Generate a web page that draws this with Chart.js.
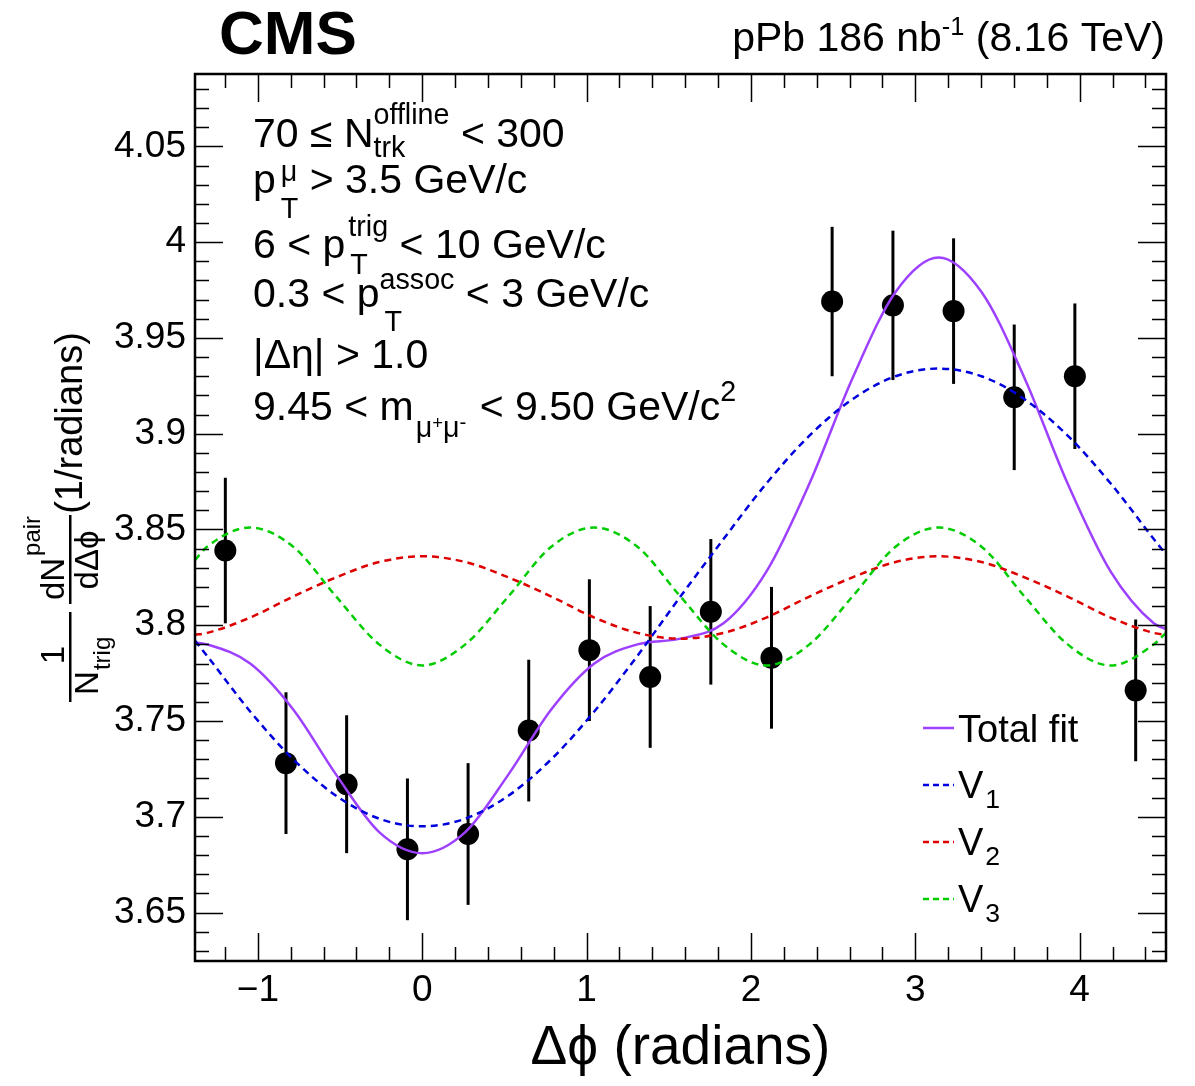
<!DOCTYPE html>
<html>
<head>
<meta charset="utf-8">
<script src="https://cdn.jsdelivr.net/npm/chart.js@4.4.1/dist/chart.umd.min.js"></script>
<style>
  html, body { margin: 0; padding: 0; background: #fff; }
  canvas { display: block; }
</style>
</head>
<body>
<canvas id="corrChart" width="1195" height="1086" style="width:1195px;height:1086px"></canvas>
<script>
// per-trigger pair yield vs delta phi, 16 bins
const binCenters = [-1.198, -0.829, -0.460, -0.090, 0.279, 0.648, 1.017, 1.387,
                    1.756, 2.125, 2.494, 2.864, 3.233, 3.602, 3.971, 4.341]
const pairYield = [3.839, 3.728, 3.717, 3.683, 3.691, 3.745, 3.787, 3.773,
                   3.807, 3.783, 3.969, 3.967, 3.964, 3.919, 3.930, 3.766]
const yieldErr = [0.038, 0.037, 0.036, 0.037, 0.037, 0.037, 0.037, 0.037,
                  0.038, 0.037, 0.039, 0.039, 0.038, 0.038, 0.038, 0.037]

// fit curves sampled along delta phi
const fitX = [-1.383, -1.309, -1.047, -0.785, -0.524, -0.262, 0, 0.262, 0.524, 0.785, 1.047, 1.309,
              1.571, 1.833, 2.094, 2.356, 2.618, 2.880, 3.142, 3.403, 3.665, 3.927, 4.189, 4.451, 4.525]
const totalFit = [3.791, 3.790, 3.780, 3.756, 3.722, 3.692, 3.681, 3.692, 3.722, 3.756, 3.780, 3.790,
                  3.793, 3.801, 3.828, 3.874, 3.929, 3.974, 3.992, 3.974, 3.929, 3.874, 3.828, 3.801, 3.798]
const v1Fit = [3.792, 3.784, 3.755, 3.730, 3.711, 3.699, 3.695, 3.699, 3.711, 3.730, 3.755, 3.784,
               3.815, 3.845, 3.874, 3.899, 3.918, 3.930, 3.934, 3.930, 3.918, 3.899, 3.874, 3.845, 3.837]
const v2Fit = [3.795, 3.796, 3.804, 3.815, 3.825, 3.833, 3.836, 3.833, 3.825, 3.815, 3.804, 3.796,
               3.793, 3.796, 3.804, 3.815, 3.825, 3.833, 3.836, 3.833, 3.825, 3.815, 3.804, 3.796, 3.795]
const v3Fit = [3.834, 3.841, 3.851, 3.841, 3.815, 3.790, 3.779, 3.790, 3.815, 3.841, 3.851, 3.841,
               3.815, 3.790, 3.779, 3.790, 3.815, 3.841, 3.851, 3.841, 3.815, 3.790, 3.779, 3.790, 3.796]

const xTickValues = [-1, 0, 1, 2, 3, 4]
const yTickValues = [3.65, 3.7, 3.75, 3.8, 3.85, 3.9, 3.95, 4, 4.05]
const xRange = [-1.3826, 4.5255]
const yRange = [3.6247, 4.0878]

const FAMILY = '"Liberation Sans", Arial, Helvetica, sans-serif'
const colTotal = '#9e40ff'
const colV1 = '#0000dd'
const colV2 = '#dd0000'
const colV3 = '#00cc00'

function fnt(size, bold) {
  return (bold ? 'bold ' : '') + size + 'px ' + FAMILY
}

// draws text with super/subscripts, returns the width used
function drawRich(ctx, x, y, size, parts, dry) {
  let cx = x
  parts.forEach(p => {
    if (typeof p === 'string') {
      ctx.font = fnt(size)
      if (!dry) ctx.fillText(p, cx, y)
      cx += ctx.measureText(p).width
    } else if (p.stack) {
      let w = 0
      p.stack.forEach(q => {
        ctx.font = fnt(size * (q.s || 0.7))
        if (!dry) ctx.fillText(q.t, cx + (q.dx || 0), y + q.dy)
        w = Math.max(w, ctx.measureText(q.t).width + (q.dx || 0))
      })
      cx += w + (p.gap || 0)
    } else {
      ctx.font = fnt(size * (p.s || 0.7))
      if (!dry) ctx.fillText(p.t, cx + (p.dx || 0), y + (p.dy || 0))
      cx += ctx.measureText(p.t).width + (p.dx || 0) + (p.gap || 0)
    }
  })
  return cx - x
}

// text rotated by -90deg: centred on page y = cy, baseline at page x = bx
function rotText(ctx, str, size, cy, bx, align) {
  ctx.save()
  ctx.rotate(-Math.PI / 2)
  ctx.font = fnt(size)
  ctx.textAlign = align || 'center'
  ctx.fillText(str, -cy, bx)
  ctx.restore()
  ctx.font = fnt(size)
  return ctx.measureText(str).width
}

const framePlugin = {
  id: 'frame',
  afterDraw(chart) {
    const ctx = chart.ctx
    const a = chart.chartArea
    const xs = chart.scales.x, ys = chart.scales.y
    ctx.save()
    ctx.strokeStyle = '#000'
    ctx.lineWidth = 1.5
    // minor ticks every 0.2 on x, every 0.01 on y, pointing inwards on all sides
    for (let i = -7; i <= 22; i++) {
      const v = i * 0.2
      if (v < xRange[0] || v > xRange[1]) continue
      const px = Math.round(xs.getPixelForValue(v)) + 0.5
      const len = (i % 5 === 0) ? 28 : 14
      ctx.beginPath()
      ctx.moveTo(px, a.bottom); ctx.lineTo(px, a.bottom - len)
      ctx.moveTo(px, a.top); ctx.lineTo(px, a.top + len)
      ctx.stroke()
    }
    for (let i = 363; i <= 408; i++) {
      const v = i / 100
      const py = Math.round(ys.getPixelForValue(v)) + 0.5
      const len = (i % 5 === 0) ? 28 : 14
      ctx.beginPath()
      ctx.moveTo(a.left, py); ctx.lineTo(a.left + len, py)
      ctx.moveTo(a.right, py); ctx.lineTo(a.right - len, py)
      ctx.stroke()
    }
    ctx.lineWidth = 2.5
    ctx.strokeRect(a.left, a.top, a.right - a.left, a.bottom - a.top)
    ctx.restore()
  }
}

const errorBarPlugin = {
  id: 'errorBars',
  beforeDatasetDraw(chart, args) {
    if (args.index !== 4) return
    const ctx = chart.ctx
    const xs = chart.scales.x, ys = chart.scales.y
    ctx.save()
    ctx.strokeStyle = '#000'
    ctx.lineWidth = 3
    binCenters.forEach((x, i) => {
      const px = xs.getPixelForValue(x)
      ctx.beginPath()
      ctx.moveTo(px, ys.getPixelForValue(pairYield[i] - yieldErr[i]))
      ctx.lineTo(px, ys.getPixelForValue(pairYield[i] + yieldErr[i]))
      ctx.stroke()
    })
    ctx.restore()
  }
}

const textPlugin = {
  id: 'labels',
  afterDraw(chart) {
    const ctx = chart.ctx
    ctx.save()
    ctx.fillStyle = '#000'
    ctx.textBaseline = 'alphabetic'
    ctx.textAlign = 'left'

    ctx.font = fnt(62, true)
    ctx.fillText('CMS', 219, 54)

    const lumi = ['pPb 186 nb', {t: '-1', dy: -16, s: 0.62}, ' (8.16 TeV)']
    const w = drawRich(ctx, 0, 0, 41, lumi, true)
    drawRich(ctx, 1165 - w, 51, 41, lumi)

    // selection cuts
    const S = 41
    drawRich(ctx, 253, 147, S, ['70 ≤ N', {stack: [{t: 'offline', dy: -23}, {t: 'trk', dy: 10}]}, ' < 300'])
    drawRich(ctx, 253, 193, S, ['p', {stack: [{t: 'μ', dy: -12, dx: 5}, {t: 'T', dy: 25, dx: 5}]}, ' > 3.5 GeV/c'])
    drawRich(ctx, 253, 258, S, ['6 < p', {stack: [{t: 'trig', dy: -22, dx: 3}, {t: 'T', dy: 16, dx: 5}]}, ' < 10 GeV/c'])
    drawRich(ctx, 253, 307, S, ['0.3 < p', {stack: [{t: 'assoc', dy: -18, dx: 0}, {t: 'T', dy: 24, dx: 5}]}, ' < 3 GeV/c'])
    drawRich(ctx, 253, 368, S, ['|Δη| > 1.0'])
    drawRich(ctx, 253, 420, S, ['9.45 < m', {t: 'μ', dy: 17, dx: 2}, {t: '+', dy: 9, s: 0.45}, {t: 'μ', dy: 17},
      {t: '-', dy: 9, s: 0.5, gap: 2}, ' < 9.50 GeV/c', {t: '2', dy: -19}])

    // legend
    const legend = [
      {y: 728, color: colTotal, dash: [], parts: ['Total fit'], base: 742},
      {y: 785, color: colV1, dash: [6, 4], parts: ['V', {t: '1', dy: 10, dx: 2}], base: 798},
      {y: 842, color: colV2, dash: [6, 4], parts: ['V', {t: '2', dy: 10, dx: 2}], base: 855},
      {y: 899, color: colV3, dash: [6, 4], parts: ['V', {t: '3', dy: 10, dx: 2}], base: 912}
    ]
    legend.forEach(e => {
      ctx.save()
      ctx.strokeStyle = e.color
      ctx.lineWidth = 2.5
      ctx.setLineDash(e.dash)
      ctx.beginPath()
      ctx.moveTo(923, e.y); ctx.lineTo(954, e.y)
      ctx.stroke()
      ctx.restore()
      drawRich(ctx, 958, e.base, 38, e.parts)
    })

    // y axis title: 1/N_trig dN^pair/dDeltaphi (1/radians)
    rotText(ctx, '(1/radians)', 38, 423, 82)
    const F = 33
    const wdN = rotText(ctx, 'dN', F, 579, 64)
    rotText(ctx, 'pair', 24, 579 - wdN / 2 - 2, 40, 'left')
    rotText(ctx, 'dΔϕ', F, 560, 98)
    rotText(ctx, '1', F, 655, 64)
    const wN = rotText(ctx, 'N', F, 683, 98)
    rotText(ctx, 'trig', 24, 683 - wN / 2 - 1, 110, 'left')
    ctx.fillRect(69, 515, 2.5, 89)
    ctx.fillRect(69, 612, 2.5, 90)

    ctx.restore()
  }
}

function series(xs, ys) {
  return xs.map((x, i) => ({x: x, y: ys[i]}))
}

function fitLine(label, values, color, dash) {
  return {
    label: label,
    data: series(fitX, values),
    borderColor: color,
    borderWidth: 2.5,
    borderDash: dash,
    pointRadius: 0,
    cubicInterpolationMode: 'monotone',
    fill: false
  }
}

const ctx = document.getElementById('corrChart').getContext('2d')
new Chart(ctx, {
  type: 'line',
  data: {
    datasets: [
      fitLine('V3', v3Fit, colV3, [7, 5]),
      fitLine('V2', v2Fit, colV2, [7, 5]),
      fitLine('V1', v1Fit, colV1, [7, 5]),
      fitLine('Total fit', totalFit, colTotal, []),
      {
        label: 'data',
        data: series(binCenters, pairYield),
        showLine: false,
        pointRadius: 11,
        pointBackgroundColor: '#000',
        pointBorderWidth: 0
      }
    ]
  },
  options: {
    responsive: false,
    animation: false,
    devicePixelRatio: 1,
    layout: { padding: { left: 0, right: 29, top: 74, bottom: 0 } },
    plugins: { legend: { display: false }, tooltip: { enabled: false } },
    scales: {
      x: {
        type: 'linear',
        min: xRange[0],
        max: xRange[1],
        afterFit: s => { s.height = 125 },
        afterBuildTicks: s => { s.ticks = xTickValues.map(v => ({ value: v })) },
        grid: { display: false, drawTicks: false },
        border: { display: false },
        ticks: {
          color: '#000',
          font: { size: 37, family: FAMILY },
          padding: 8,
          maxRotation: 0,
          autoSkip: false,
          callback: v => (v < 0 ? '\u2212' + Math.abs(v) : String(v))
        },
        title: {
          display: true,
          text: 'Δϕ (radians)',
          color: '#000',
          font: { size: 55, family: FAMILY },
          padding: { top: 0, bottom: 4 }
        }
      },
      y: {
        min: yRange[0],
        max: yRange[1],
        afterFit: s => { s.width = 195 },
        afterBuildTicks: s => { s.ticks = yTickValues.map(v => ({ value: v })) },
        grid: { display: false, drawTicks: false },
        border: { display: false },
        ticks: {
          color: '#000',
          font: { size: 37, family: FAMILY },
          padding: 9,
          autoSkip: false,
          callback: v => String(+v.toFixed(2))
        }
      }
    }
  },
  plugins: [errorBarPlugin, framePlugin, textPlugin]
})
</script>
</body>
</html>
